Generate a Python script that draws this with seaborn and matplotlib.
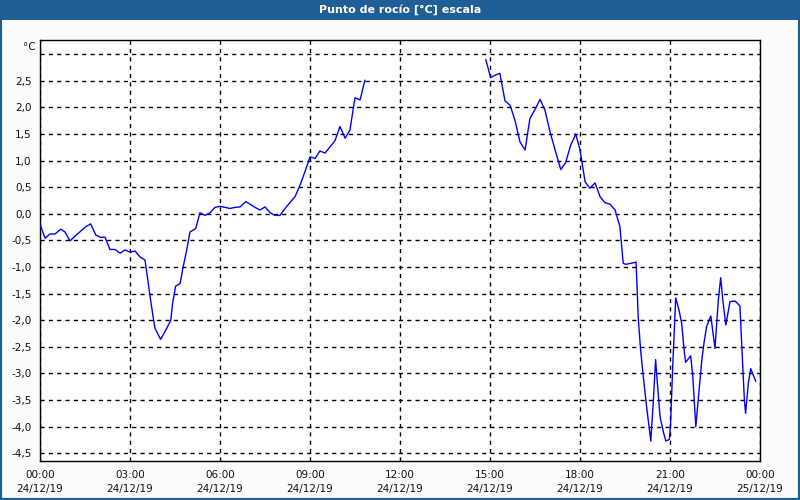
import matplotlib
matplotlib.use("Agg")
import matplotlib.pyplot as plt
from matplotlib.patches import Rectangle
import seaborn as sns
import pandas as pd

# ---- data (hours since 24/12/19 00:00, dew point in °C) ----
t1 = [0.02, 0.17, 0.33, 0.5, 0.69, 0.83, 1.0, 1.17, 1.39, 1.53, 1.69, 1.86, 2.0, 2.17, 2.33, 2.5,
      2.67, 2.83, 3.0, 3.17, 3.33, 3.5, 3.61, 3.72, 3.83, 4.02, 4.19, 4.36, 4.42, 4.52, 4.67, 4.76,
      4.89, 5.0, 5.19, 5.33, 5.5, 5.67, 5.83, 6.0, 6.17, 6.33, 6.5, 6.67, 6.86, 7.0, 7.17, 7.33, 7.5,
      7.67, 7.83, 8.0, 8.17, 8.33, 8.5, 8.67, 8.83, 9.0, 9.17, 9.33, 9.5, 9.67, 9.83, 10.0, 10.17,
      10.33, 10.5, 10.67, 10.83]
v1 = [-0.23, -0.46, -0.38, -0.38, -0.29, -0.34, -0.51, -0.42, -0.31, -0.24, -0.19, -0.40, -0.44,
      -0.44, -0.67, -0.67, -0.74, -0.68, -0.72, -0.70, -0.81, -0.87, -1.31, -1.75, -2.15, -2.36,
      -2.19, -2.0, -1.68, -1.36, -1.31, -1.03, -0.68, -0.34, -0.28, 0.02, -0.03, 0.02, 0.12, 0.14,
      0.12, 0.10, 0.12, 0.13, 0.23, 0.18, 0.12, 0.07, 0.13, 0.02, -0.03, -0.03, 0.10, 0.21, 0.32,
      0.54, 0.79, 1.07, 1.04, 1.18, 1.14, 1.26, 1.37, 1.64, 1.42, 1.57, 2.18, 2.14, 2.51]
t2 = [14.86, 15.02, 15.19, 15.33, 15.5, 15.67, 15.83, 16.0, 16.17, 16.33, 16.5, 16.67, 16.83, 17.0,
      17.17, 17.36, 17.52, 17.69, 17.86, 18.0, 18.17, 18.33, 18.5, 18.67, 18.83, 19.0, 19.17, 19.33,
      19.44, 19.53, 19.87, 19.94, 20.02, 20.11, 20.22, 20.36, 20.44, 20.52, 20.58, 20.67, 20.78,
      20.86, 20.98, 21.02, 21.09, 21.19, 21.3, 21.39, 21.47, 21.52, 21.69, 21.76, 21.86, 21.97,
      22.06, 22.13, 22.22, 22.36, 22.5, 22.61, 22.69, 22.76, 22.86, 23.0, 23.17, 23.33, 23.41,
      23.48, 23.52, 23.61, 23.69, 23.86]
v2 = [2.90, 2.56, 2.61, 2.64, 2.12, 2.04, 1.76, 1.35, 1.20, 1.79, 1.96, 2.15, 1.95, 1.54, 1.20,
      0.83, 0.96, 1.29, 1.50, 1.20, 0.60, 0.48, 0.58, 0.32, 0.21, 0.18, 0.07, -0.24, -0.93, -0.95,
      -0.91, -1.94, -2.56, -3.06, -3.63, -4.27, -3.56, -2.74, -3.19, -3.82, -4.10, -4.27, -4.24,
      -3.94, -2.88, -1.58, -1.81, -2.06, -2.56, -2.79, -2.67, -3.06, -4.0, -3.31, -2.75, -2.44,
      -2.12, -1.92, -2.53, -1.62, -1.20, -1.62, -2.09, -1.65, -1.64, -1.73, -2.69, -3.50, -3.75,
      -3.19, -2.91, -3.15]

x_ticks = [0, 3, 6, 9, 12, 15, 18, 21, 24]
x_labels = ["00:00\n24/12/19", "03:00\n24/12/19", "06:00\n24/12/19", "09:00\n24/12/19",
            "12:00\n24/12/19", "15:00\n24/12/19", "18:00\n24/12/19", "21:00\n24/12/19",
            "00:00\n25/12/19"]
y_ticks = [-4.5, -4.0, -3.5, -3.0, -2.5, -2.0, -1.5, -1.0, -0.5, 0.0, 0.5, 1.0, 1.5, 2.0, 2.5, 3.0]
y_labels = ["-4,5", "-4,0", "-3,5", "-3,0", "-2,5", "-2,0", "-1,5", "-1,0", "-0,5", "0,0",
            "0,5", "1,0", "1,5", "2,0", "2,5", ""]
title = "Punto de rocío [°C] escala"
unit = "°C"

df = pd.concat([
    pd.DataFrame({"t": t1, "v": v1, "seg": 1}),
    pd.DataFrame({"t": t2, "v": v2, "seg": 2}),
], ignore_index=True)

sns.set_theme(style="white")
plt.rcParams["font.family"] = ["DejaVu Sans"]

BG = "#fafcfa"
BLUE_BAR = "#1f5f96"

fig = plt.figure(figsize=(8, 5), dpi=100, facecolor=BG)
ax = fig.add_axes([40 / 800, 1 - 460.7 / 500, 720 / 800, (460.7 - 40.3) / 500])
ax.set_facecolor("white")

sns.lineplot(data=df, x="t", y="v", units="seg", estimator=None, color="#0000ff",
             linewidth=1.0, ax=ax, legend=False, zorder=3)

ax.set_xlim(0, 24)
ax.set_ylim(-4.64, 3.26)
ax.set_xticks(x_ticks)
ax.set_xticklabels(x_labels, fontsize=7.5, color="#111111", linespacing=1.45)
ax.set_xticks(list(range(0, 25)), minor=True)
ax.set_yticks(y_ticks)
ax.set_yticklabels(y_labels, fontsize=7.5, color="#111111")
ax.tick_params(axis="x", which="both", direction="out", length=3, width=1, color="black", pad=4)
ax.tick_params(axis="y", which="both", length=0, pad=6)
ax.set_xlabel("")
ax.set_ylabel("")

for s in ax.spines.values():
    s.set_visible(True)
    s.set_color("black")
    s.set_linewidth(1)

ax.grid(True, which="major", axis="both", color="black", linestyle=(0, (3, 3)), linewidth=1)
ax.set_axisbelow(True)

ax.text(-0.006, 0.995, unit, transform=ax.transAxes, ha="right", va="top",
        fontsize=7.5, color="#111111")

# title bar and border
fig.patches.append(Rectangle((0, 1 - 20 / 500), 1, 20 / 500, transform=fig.transFigure,
                             facecolor=BLUE_BAR, edgecolor="none", zorder=0))
fig.patches.append(Rectangle((0, 0), 1, 1, transform=fig.transFigure, fill=False,
                             edgecolor=BLUE_BAR, linewidth=3, zorder=5))
fig.text(0.5, 1 - 10 / 500, title, ha="center", va="center", color="white",
         fontsize=8, fontweight="bold")

fig.savefig("out.png", dpi=100, facecolor=BG)
